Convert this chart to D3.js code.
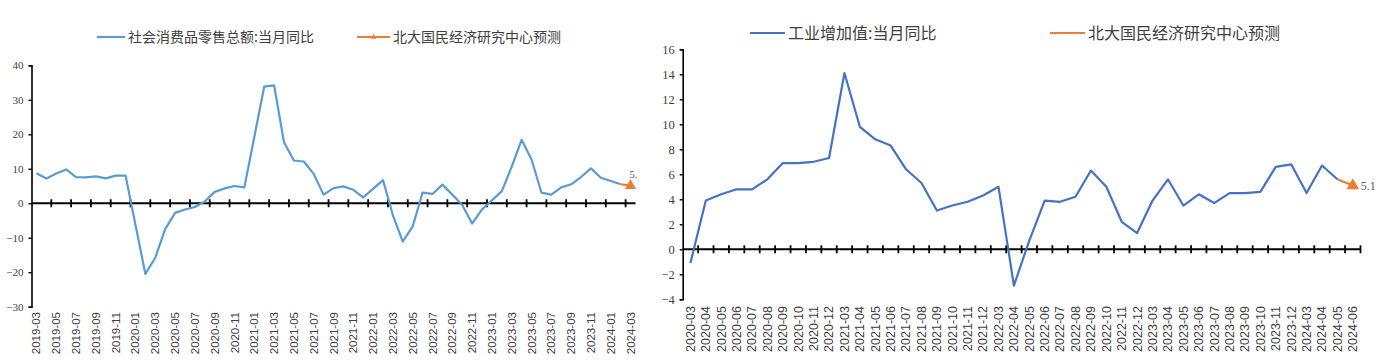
<!DOCTYPE html>
<html>
<head>
<meta charset="utf-8">
<script src="https://cdn.jsdelivr.net/npm/d3@7/dist/d3.min.js"></script>
<style>
html,body{margin:0;padding:0;background:#fff;}
svg{display:block;}
</style>
</head>
<body>
<svg id="chart" width="1383" height="360"></svg>
<script>
// ---------- DATA: left chart (retail sales, y/y %) ----------
const leftCategories = [
 "2019-03","2019-04","2019-05","2019-06","2019-07","2019-08","2019-09","2019-10","2019-11","2019-12",
 "2020-01","2020-02","2020-03","2020-04","2020-05","2020-06","2020-07","2020-08","2020-09","2020-10","2020-11","2020-12",
 "2021-01","2021-02","2021-03","2021-04","2021-05","2021-06","2021-07","2021-08","2021-09","2021-10","2021-11","2021-12",
 "2022-01","2022-02","2022-03","2022-04","2022-05","2022-06","2022-07","2022-08","2022-09","2022-10","2022-11","2022-12",
 "2023-01","2023-02","2023-03","2023-04","2023-05","2023-06","2023-07","2023-08","2023-09","2023-10","2023-11","2023-12",
 "2024-01","2024-02","2024-03"];
const leftActual = [
 8.7,7.2,8.6,9.8,7.6,7.5,7.8,7.2,8.0,8.0,
 null,-20.5,-15.8,-7.5,-2.8,-1.8,-1.1,0.5,3.3,4.3,5.0,4.6,
 null,33.8,34.2,17.7,12.4,12.1,8.5,2.5,4.4,4.9,3.9,1.7,
 null,6.7,-3.5,-11.1,-6.7,3.1,2.7,5.4,2.5,-0.5,-5.9,-1.8,
 null,3.5,10.6,18.4,12.7,3.1,2.5,4.6,5.5,7.6,10.1,7.4,
 null,5.5,null];
const leftForecast = [
 null,null,null,null,null,null,null,null,null,null,
 null,null,null,null,null,null,null,null,null,null,null,null,
 null,null,null,null,null,null,null,null,null,null,null,null,
 null,null,null,null,null,null,null,null,null,null,null,null,
 null,null,null,null,null,null,null,null,null,null,null,null,
 null,5.5,5.1];
const leftYTicks = [-30,-20,-10,0,10,20,30,40];
const leftSeriesNames = ["社会消费品零售总额:当月同比","北大国民经济研究中心预测"];

// ---------- DATA: right chart (industrial value added, y/y %) ----------
const rightCategories = [
 "2020-03","2020-04","2020-05","2020-06","2020-07","2020-08","2020-09","2020-10","2020-11","2020-12",
 "2021-03","2021-04","2021-05","2021-06","2021-07","2021-08","2021-09","2021-10","2021-11","2021-12",
 "2022-03","2022-04","2022-05","2022-06","2022-07","2022-08","2022-09","2022-10","2022-11","2022-12",
 "2023-03","2023-04","2023-05","2023-06","2023-07","2023-08","2023-09","2023-10","2023-11","2023-12",
 "2024-03","2024-04","2024-05","2024-06"];
const rightActual = [
 -1.1,3.9,4.4,4.8,4.8,5.6,6.9,6.9,7.0,7.3,
 14.1,9.8,8.8,8.3,6.4,5.3,3.1,3.5,3.8,4.3,
 5.0,-2.9,0.7,3.9,3.8,4.2,6.3,5.0,2.2,1.3,
 3.9,5.6,3.5,4.4,3.7,4.5,4.5,4.6,6.6,6.8,
 4.5,6.7,5.6,null];
const rightForecast = [
 null,null,null,null,null,null,null,null,null,null,
 null,null,null,null,null,null,null,null,null,null,
 null,null,null,null,null,null,null,null,null,null,
 null,null,null,null,null,null,null,null,null,null,
 null,null,5.6,5.1];
const rightYTicks = [-4,-2,0,2,4,6,8,10,12,14,16];
const rightSeriesNames = ["工业增加值:当月同比","北大国民经济研究中心预测"];

// ---------- DRAWING ----------
const svg = d3.select("#chart");
const ORANGE = "#ED7D31";
const TXT = "#404040";
const CJK = "'Noto Sans CJK SC','Noto Sans',sans-serif";
const NUM = "'Liberation Serif','Times New Roman',serif";

function drawPanel(cfg) {
  const g = svg.append("g");
  const x = d3.scaleBand().domain(cfg.categories).range(cfg.xRange).paddingInner(0).paddingOuter(0);
  const y = d3.scaleLinear().domain(cfg.yDomain).range(cfg.yRange);
  const bw = x.bandwidth();
  const cx = c => x(c) + bw / 2;

  // y axis
  const ya = g.append("g").attr("transform", `translate(${cfg.xRange[0]},0)`)
    .call(d3.axisLeft(y).tickValues(cfg.yTicks).tickSize(3).tickSizeOuter(3).tickPadding(cfg.yPad).tickFormat(d3.format("d")));
  ya.select(".domain").attr("stroke", "#000").attr("stroke-width", 1.6);
  ya.selectAll(".tick line").attr("stroke", "#000").attr("stroke-width", 1.4);
  ya.selectAll(".tick text").attr("font-family", NUM).attr("font-size", cfg.yFont).attr("fill", TXT);

  // zero line with crossing ticks
  const y0 = y(0);
  g.append("line").attr("x1", cfg.xRange[0]).attr("x2", cfg.xRange[1])
    .attr("y1", y0).attr("y2", y0).attr("stroke", "#000").attr("stroke-width", 2);
  const bounds = [];
  for (let i = cfg.tickEvery; i <= cfg.categories.length; i += cfg.tickEvery) bounds.push(i);
  g.selectAll(".xt").data(bounds).join("line").attr("class", "xt")
    .attr("x1", i => i < cfg.categories.length ? x(cfg.categories[i]) : cfg.xRange[1])
    .attr("x2", i => i < cfg.categories.length ? x(cfg.categories[i]) : cfg.xRange[1])
    .attr("y1", y0 - 4).attr("y2", y0 + 4).attr("stroke", "#000").attr("stroke-width", 1.8);

  // x labels
  const xa = g.append("g").attr("transform", `translate(0,${cfg.labelY})`)
    .call(d3.axisBottom(x).tickValues(cfg.categories.filter((d, i) => i % cfg.labelEvery === 0)).tickSize(0));
  xa.select(".domain").remove();
  xa.selectAll(".tick text")
    .attr("transform", "rotate(-90)")
    .attr("text-anchor", "end").attr("x", 0).attr("y", 0).attr("dy", "0.35em")
    .attr("font-family", cfg.xFontFamily).attr("font-size", cfg.xFont).attr("fill", TXT);

  // lines
  const clipId = "clip" + cfg.id;
  svg.append("defs").append("clipPath").attr("id", clipId)
    .append("rect").attr("x", cfg.clip[0]).attr("y", 0).attr("width", cfg.clip[1] - cfg.clip[0]).attr("height", 360);
  const line = d3.line().x(d => cx(d.c)).y(d => y(d.v));
  const act = cfg.categories.map((c, i) => ({c, v: cfg.actual[i]})).filter(d => d.v != null);
  const fc = cfg.categories.map((c, i) => ({c, v: cfg.forecast[i]})).filter(d => d.v != null);
  g.append("path").datum(act).attr("d", line).attr("fill", "none")
    .attr("stroke", cfg.blue).attr("stroke-width", 2.2).attr("stroke-linejoin", "round");
  g.append("path").datum(fc).attr("d", line).attr("fill", "none")
    .attr("stroke", ORANGE).attr("stroke-width", 2.2);
  const last = fc[fc.length - 1];
  g.append("path").attr("d", d3.symbol(d3.symbolTriangle, cfg.markerSize)())
    .attr("transform", `translate(${cx(last.c)},${y(last.v)})`).attr("fill", ORANGE);
  g.append("text").attr("clip-path", `url(#${clipId})`)
    .attr("x", cx(last.c) + cfg.lblDx).attr("y", y(last.v) + cfg.lblDy)
    .attr("font-family", NUM).attr("font-size", cfg.lblFont).attr("fill", "#595959")
    .text(d3.format(".1f")(last.v));

  // legend
  const lg = g.append("g");
  const L = cfg.legend;
  lg.append("line").attr("x1", L.b[0]).attr("x2", L.b[1]).attr("y1", L.y).attr("y2", L.y)
    .attr("stroke", cfg.blue).attr("stroke-width", 2.2);
  lg.append("text").attr("x", L.b[1] + 3).attr("y", L.y).attr("dy", "0.35em")
    .attr("font-family", CJK).attr("font-size", L.font).attr("fill", TXT).text(cfg.names[0]);
  lg.append("line").attr("x1", L.o[0]).attr("x2", L.o[1]).attr("y1", L.y).attr("y2", L.y)
    .attr("stroke", ORANGE).attr("stroke-width", 2.2);
  if (L.marker) lg.append("path").attr("d", d3.symbol(d3.symbolTriangle, 14)())
    .attr("transform", `translate(${(L.o[0] + L.o[1]) / 2},${L.y})`).attr("fill", ORANGE);
  lg.append("text").attr("x", L.o[1] + 3).attr("y", L.y).attr("dy", "0.35em")
    .attr("font-family", CJK).attr("font-size", L.font).attr("fill", TXT).text(cfg.names[1]);
}

drawPanel({
  id: "L", categories: leftCategories, actual: leftActual, forecast: leftForecast, names: leftSeriesNames,
  xRange: [31.5, 635.5], yDomain: [-30, 40], yRange: [306.7, 65.3], yTicks: leftYTicks,
  yFont: 11, yPad: 5, tickEvery: 2, labelEvery: 2, labelY: 312, xFont: 11.5,
  xFontFamily: "'Liberation Sans',Arial,sans-serif",
  blue: "#5B9BD5", markerSize: 55, lblDx: -1, lblDy: -8, lblFont: 10.5, clip: [0, 637],
  legend: {y: 37, b: [97, 125], o: [357, 390], font: 14, marker: true}
});
drawPanel({
  id: "R", categories: rightCategories, actual: rightActual, forecast: rightForecast, names: rightSeriesNames,
  xRange: [682.7, 1360.5], yDomain: [-4, 16], yRange: [299.3, 49.3], yTicks: rightYTicks,
  yFont: 12.5, yPad: 5, tickEvery: 1, labelEvery: 1, labelY: 306, xFont: 12.5,
  xFontFamily: "'Liberation Sans',Arial,sans-serif",
  blue: "#4472C4", markerSize: 70, lblDx: 8, lblDy: 4, lblFont: 12, clip: [0, 1383],
  legend: {y: 33, b: [750, 785], o: [1050, 1085], font: 16, marker: false}
});
</script>
</body>
</html>
